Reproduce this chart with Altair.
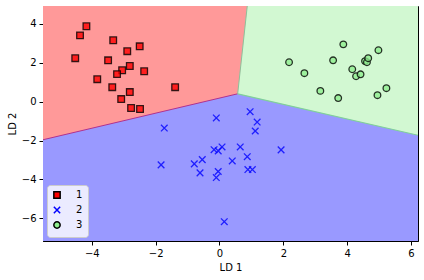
import altair as alt
import pandas as pd

# ---- data ----
red_x = [-4.17, -4.37, -3.33, -2.50, -2.89, -4.52, -3.49, -2.81, -3.05, -2.36, -3.21, -3.83, -3.36, -2.81, -1.39, -3.08, -2.77, -2.49]
red_y = [3.87, 3.40, 3.15, 2.84, 2.59, 2.23, 2.12, 1.83, 1.61, 1.56, 1.41, 1.15, 0.74, 0.49, 0.74, 0.13, -0.33, -0.38]

blue_x = [-1.73, -0.10, 0.96, 1.18, 1.12, 1.93, 0.65, 0.08, -0.17, -0.04, 0.87, 0.40, -0.54, -0.79, -1.83, -0.61, -0.04, -0.10, 0.89, 1.03, 0.15]
blue_y = [-1.36, -0.84, -0.52, -1.05, -1.51, -2.48, -2.33, -2.33, -2.47, -2.53, -2.83, -3.05, -2.98, -3.20, -3.25, -3.66, -3.59, -3.90, -3.49, -3.49, -6.17]

green_x = [2.18, 2.66, 3.16, 3.56, 3.72, 3.88, 4.16, 4.28, 4.42, 4.56, 4.62, 4.66, 4.98, 4.95, 5.23]
green_y = [2.02, 1.46, 0.55, 2.12, 0.18, 2.94, 1.66, 1.30, 1.40, 2.08, 2.02, 2.23, 2.64, 0.33, 0.69]

classes = ["1", "2", "3"]
x_domain = [-5.53, 6.22]
y_domain = [-7.16, 4.91]
x_ticks = [-4, -2, 0, 2, 4, 6]
y_ticks = [-6, -4, -2, 0, 2, 4]

# decision boundary vertices (data space)
triple = [0.57, 0.40]
rb_left_y = -1.96      # red/blue boundary at left edge
rg_top_x = 0.87        # red/green boundary at top edge
gb_right_y = -1.73     # green/blue boundary at right edge

# ---- tables ----
pts = pd.concat([
    pd.DataFrame({"x": red_x, "y": red_y, "cls": "1"}),
    pd.DataFrame({"x": blue_x, "y": blue_y, "cls": "2"}),
    pd.DataFrame({"x": green_x, "y": green_y, "cls": "3"}),
])

bg = pd.DataFrame({"x": [x_domain[0]], "x2": [x_domain[1]], "y": [y_domain[0]], "y2": [y_domain[1]]})
red_reg = pd.DataFrame({"x": [x_domain[0], triple[0], rg_top_x],
                        "y": [rb_left_y, triple[1], y_domain[1]],
                        "y2": [y_domain[1]] * 3})
green_reg = pd.DataFrame({"x": [triple[0], x_domain[1]],
                          "y": [triple[1], gb_right_y],
                          "y2": [y_domain[1]] * 2})
rb_line = pd.DataFrame({"x": [x_domain[0], triple[0]], "y": [rb_left_y, triple[1]]})
gb_line = pd.DataFrame({"x": [triple[0], x_domain[1]], "y": [triple[1], gb_right_y]})
rg_line = pd.DataFrame({"x": [triple[0], rg_top_x], "y": [triple[1], y_domain[1]]})

xs = alt.Scale(domain=x_domain, nice=False, zero=False)
ys = alt.Scale(domain=y_domain, nice=False, zero=False)
xax = alt.Axis(values=x_ticks, title="LD 1")
yax = alt.Axis(values=y_ticks, title="LD 2")

X = lambda: alt.X("x:Q", scale=xs, axis=xax)
Y = lambda: alt.Y("y:Q", scale=ys, axis=yax)

bg_layer = alt.Chart(bg).mark_rect(color="#9999ff", clip=True).encode(
    x=X(), x2="x2:Q", y=Y(), y2="y2:Q")
green_layer = alt.Chart(green_reg).mark_area(color="#d2f8d2", clip=True).encode(
    x=X(), y=Y(), y2="y2:Q")
red_layer = alt.Chart(red_reg).mark_area(color="#ff9999", clip=True).encode(
    x=X(), y=Y(), y2="y2:Q")
rb_layer = alt.Chart(rb_line).mark_line(color="#b0328e", strokeWidth=1, clip=True).encode(x=X(), y=Y())
gb_layer = alt.Chart(gb_line).mark_line(color="#80d09a", strokeWidth=1.2, clip=True).encode(x=X(), y=Y())
rg_layer = alt.Chart(rg_line).mark_line(color="#8fbf9a", strokeWidth=1, clip=True).encode(x=X(), y=Y())

xpath = "M-1,-1L1,1M-1,1L1,-1"
points = alt.Chart(pts).mark_point(filled=False, size=44, fillOpacity=0.8, strokeOpacity=0.8,
                                   strokeWidth=1.3, clip=True).encode(
    x=X(), y=Y(),
    shape=alt.Shape("cls:N", scale=alt.Scale(domain=classes, range=["square", xpath, "circle"]), title=None),
    fill=alt.Fill("cls:N", scale=alt.Scale(domain=classes, range=["red", "blue", "lightgreen"]), title=None),
    stroke=alt.Stroke("cls:N", scale=alt.Scale(domain=classes, range=["#000000", "blue", "#000000"]), title=None),
)

chart = alt.layer(bg_layer, green_layer, red_layer, rb_layer, gb_layer, rg_layer, points).properties(
    width=375, height=235,
    autosize=alt.AutoSizeParams(type="none"),
    padding={"left": 43, "top": 6, "right": 6, "bottom": 39},
).configure_view(stroke="black", strokeWidth=1).configure_axis(
    grid=False, labelFont="DejaVu Sans", titleFont="DejaVu Sans", labelFontSize=10,
    titleFontSize=10, titleFontWeight="normal", labelColor="black", titleColor="black",
    tickColor="black", tickSize=4, domainColor="black", labelPadding=3, titlePadding=4,
).configure_legend(
    orient="bottom-left", offset=4, fillColor="#ebebff", strokeColor="#cccccc",
    cornerRadius=3, padding=5, labelFont="DejaVu Sans", labelFontSize=10, labelColor="black",
    rowPadding=1, symbolSize=40, labelOffset=14,
)

chart.save("out.html", embed_options={"renderer": "svg", "actions": False})
